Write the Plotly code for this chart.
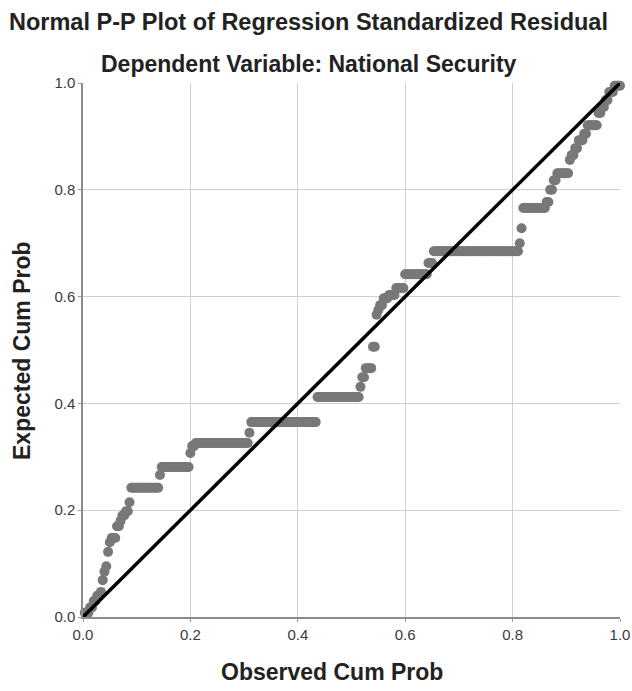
import numpy as np
import plotly.graph_objects as go

# Expected cumulative probability of each tie group of residuals (sorted),
# and the number of cases in each group.
expected_levels = [
    0.008, 0.018, 0.030, 0.040, 0.047, 0.069, 0.085, 0.095, 0.122, 0.140,
    0.148, 0.170, 0.180, 0.190, 0.198, 0.215, 0.242, 0.266, 0.281, 0.307,
    0.320, 0.326, 0.345, 0.365, 0.412, 0.431, 0.449, 0.466, 0.506, 0.566,
    0.575, 0.584, 0.597, 0.603, 0.616, 0.642, 0.663, 0.685, 0.700, 0.728,
    0.766, 0.777, 0.800, 0.818, 0.831, 0.856, 0.865, 0.878, 0.893, 0.905,
    0.921, 0.944, 0.955, 0.968, 0.983, 0.995,
]
case_counts = [
    3, 2, 2, 2, 1, 1, 1, 1, 1, 1,
    3, 2, 1, 2, 2, 1, 16, 1, 16, 1,
    2, 30, 1, 37, 24, 1, 2, 4, 2, 1,
    1, 2, 3, 4, 5, 13, 3, 48, 1, 1,
    13, 2, 2, 2, 7, 1, 2, 2, 3, 2,
    6, 2, 2, 2, 3, 4,
]

tick_vals = [0.0, 0.2, 0.4, 0.6, 0.8, 1.0]
tick_text = ["0.0", "0.2", "0.4", "0.6", "0.8", "1.0"]

# One point per case: observed cum prob is rank / n
n_cases = sum(case_counts)
expected = np.repeat(expected_levels, case_counts)
observed = np.arange(1, n_cases + 1) / n_cases

FONT = "Liberation Sans, Arial, sans-serif"

fig = go.Figure()
fig.add_trace(go.Scatter(
    x=observed, y=expected, mode="markers",
    marker=dict(size=10, color="#787878", line=dict(width=0)),
    cliponaxis=False, hoverinfo="skip", showlegend=False,
))
fig.add_trace(go.Scatter(
    x=[0, 1], y=[0, 1], mode="lines",
    line=dict(color="#000000", width=3.5),
    cliponaxis=False, hoverinfo="skip", showlegend=False,
))

axis_common = dict(
    range=[0, 1], tickvals=tick_vals, ticktext=tick_text,
    showgrid=True, gridcolor="#d0d0d0", gridwidth=1.2,
    zeroline=False, showline=True, linecolor="#8c8c8c", linewidth=1.5,
    ticks="outside", ticklen=3, tickcolor="#9a9a9a",
    tickfont=dict(family=FONT, size=15, color="#3a3a3a"),
    fixedrange=True, automargin=False,
)


def px_x(px):
    return (px - 83) / 537


def px_y(py):
    return (617 - py) / 534


fig.update_layout(
    width=632, height=691,
    margin=dict(l=83, r=12, t=83, b=74),
    paper_bgcolor="#ffffff", plot_bgcolor="#ffffff",
    xaxis=dict(**axis_common, mirror=False),
    yaxis=dict(**axis_common, mirror=False),
    annotations=[
        dict(text="<b>Normal P-P Plot of Regression Standardized Residual</b>",
             xref="paper", yref="paper", x=px_x(308), y=px_y(22),
             xanchor="center", yanchor="middle", showarrow=False,
             font=dict(family=FONT, size=23.5, color="#222222")),
        dict(text="<b>Dependent Variable: National Security</b>",
             xref="paper", yref="paper", x=px_x(309), y=px_y(64),
             xanchor="center", yanchor="middle", showarrow=False,
             font=dict(family=FONT, size=23, color="#222222")),
        dict(text="<b>Observed Cum Prob</b>",
             xref="paper", yref="paper", x=px_x(332), y=px_y(672),
             xanchor="center", yanchor="middle", showarrow=False,
             font=dict(family=FONT, size=23, color="#222222")),
        dict(text="<b>Expected Cum Prob</b>", textangle=-90,
             xref="paper", yref="paper", x=px_x(22), y=px_y(351),
             xanchor="center", yanchor="middle", showarrow=False,
             font=dict(family=FONT, size=23, color="#222222")),
    ],
)

fig.write_html("out.html")
